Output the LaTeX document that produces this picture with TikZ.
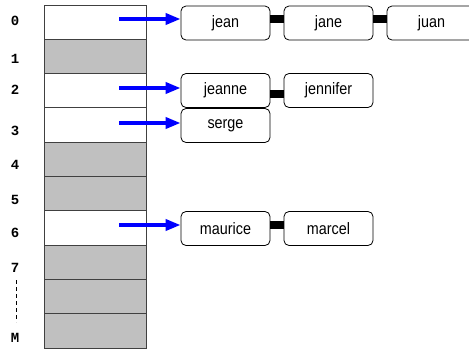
\documentclass[tikz,border=0pt]{standalone}
\usepackage{fontspec}
\setmainfont{Liberation Sans}
\newfontfamily\labfont{Liberation Mono}[BoldFont={Liberation Mono Bold}]
\newfontfamily\boxfont{Liberation Sans}[FakeStretch=0.87]
\usetikzlibrary{arrows.meta}
\begin{document}
\begin{tikzpicture}[x=1pt,y=-1pt,
  cell/.style={draw=black!75,line width=0.9pt,minimum width=102.7pt,minimum height=34.3pt,inner sep=0pt,outer sep=0pt},
  full/.style={cell,fill={rgb,255:red,192;green,192;blue,192}},
  empty/.style={cell,fill=white},
  idx/.style={font=\labfont\bfseries\fontsize{14}{14}\selectfont,inner sep=0pt},
  lbox/.style={draw=black,line width=0.8pt,rounded corners=5pt,fill=white,minimum width=89pt,minimum height=34pt,inner sep=0pt,font=\boxfont\fontsize{16.5}{16.5}\selectfont},
  ptr/.style={draw={rgb,255:red,0;green,0;blue,255},line width=3.6pt,-{Triangle[length=15pt,width=11pt]}},
  bar/.style={draw=black,line width=8pt}
]
\useasboundingbox (0,0) rectangle (469,349);
% table cells
\node[empty] (c0) at (95.35,22.15) {};
\node[full]  (c1) at (95.35,56.45) {};
\node[empty] (c2) at (95.35,90.75) {};
\node[empty] (c3) at (95.35,125.05) {};
\node[full]  (c4) at (95.35,159.35) {};
\node[full]  (c5) at (95.35,193.65) {};
\node[empty] (c6) at (95.35,227.95) {};
\node[full]  (c7) at (95.35,262.25) {};
\node[full]  (c8) at (95.35,296.55) {};
\node[full]  (c9) at (95.35,330.85) {};
% index labels
\node[idx] (l0) at (15,21) {0};
\node[idx] (l1) at (15,58.5) {1};
\node[idx] (l2) at (15,89.5) {2};
\node[idx] (l3) at (15,131) {3};
\node[idx] (l4) at (15,165) {4};
\node[idx] (l5) at (15,200) {5};
\node[idx] (l6) at (15,233) {6};
\node[idx] (l7) at (15,268) {7};
\node[idx] (lM) at (15,338) {M};
\coordinate (d1) at (16,280);
\coordinate (d2) at (16,322);
\draw[line width=0.9pt,dash pattern=on 4pt off 3pt] (d1) -- (d2);
% list boxes
\node[lbox] (jean) at (225.5,23) {jean};
\node[lbox] (jane) at (328.5,23) {jane};
\node[lbox] (juan) at (431.5,23) {juan};
\node[lbox] (jeanne) at (225.5,90.5) {jeanne};
\node[lbox] (jennifer) at (328.5,90.5) {jennifer};
\node[lbox] (serge) at (225.5,125.5) {serge};
\node[lbox] (maurice) at (225.5,228.5) {maurice};
\node[lbox] (marcel) at (328.5,228.5) {marcel};
% links
\draw[bar] (jean.east |- 0,19) -- (jane.west |- 0,19);
\draw[bar] (jane.east |- 0,19) -- (juan.west |- 0,19);
\draw[bar] (jeanne.east |- 0,93.5) -- (jennifer.west |- 0,93.5);
\draw[bar] (maurice.east |- 0,225) -- (marcel.west |- 0,225);
% pointers
\coordinate (a0) at (119,19);
\coordinate (a2) at (119,88);
\coordinate (a3) at (119,123);
\coordinate (a6) at (119,225);
\draw[ptr] (a0) -- (a0 -| jean.west);
\draw[ptr] (a2) -- (a2 -| jeanne.west);
\draw[ptr] (a3) -- (a3 -| serge.west);
\draw[ptr] (a6) -- (a6 -| maurice.west);
\end{tikzpicture}
\end{document}
